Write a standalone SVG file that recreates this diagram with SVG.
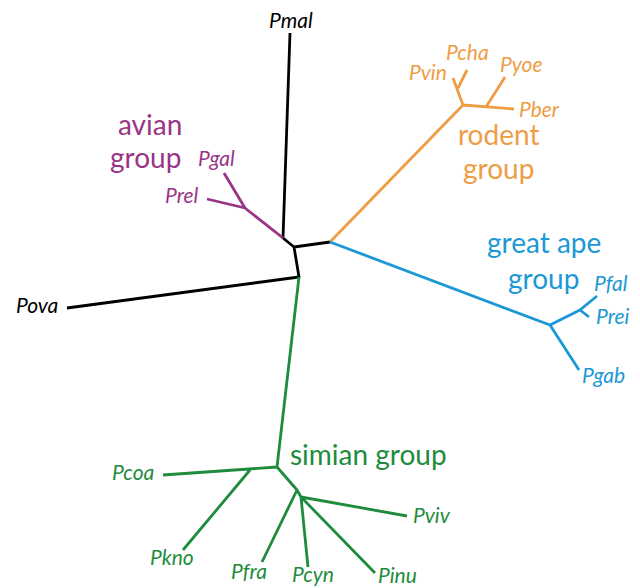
<svg xmlns="http://www.w3.org/2000/svg" width="640" height="588" viewBox="0 0 640 588">
<style>
.br{fill:none;stroke-width:2.8;stroke-linejoin:round;stroke-linecap:butt}
.tx{font-family:Lato,"Open Sans",sans-serif;font-style:italic;font-size:21px}
.grp{font-family:Lato,"Open Sans",sans-serif;font-size:28px}
.k{stroke:#000}.kt{fill:#000}
.p{stroke:#993586}.pt{fill:#993586}
.o{stroke:#EE9D45}.ot{fill:#EE9D45}
.b{stroke:#1B98D5}.bt{fill:#1B98D5}
.g{stroke:#1E8C3C}.gt{fill:#1E8C3C}
</style>
<rect width="640" height="588" fill="#fff"/>
<g id="connectors">
  <path class="br k" d="M290,33 L283,238 L294,247 L330,242 M294,247 L299,277 L67,308"/>
  <path class="br p" d="M283,238 L245,208 L224,173 M245,208 L207,199"/>
  <path class="br o" d="M330,242 L463,105 L514,109 M486,107 L505,77 M463,105 L453,78 M458,88 L467,70"/>
  <path class="br b" d="M330,242 L550,325 L580,310 L597,296 M580,310 L589,317 M550,325 L579,370"/>
  <path class="br g" d="M299,277 L277,467 L163,475 M250,470 L183,550 M277,467 L297,490 L262,562 M297,490 L301,497 L308,567 M301,497 L375,573 M301,497 L407,516"/>
</g>
<g id="Pmal"><text class="tx kt" x="269" y="28">Pmal</text></g>
<g id="Pova"><text class="tx kt" x="16" y="313">Pova</text></g>
<g id="avian"><text class="grp pt" x="118" y="135">avian</text><text class="grp pt" x="110" y="168">group</text></g>
<g id="Pgal"><text class="tx pt" x="198" y="166">Pgal</text></g>
<g id="Prel"><text class="tx pt" x="165" y="203">Prel</text></g>
<g id="Pcha"><text class="tx ot" x="446" y="60">Pcha</text></g>
<g id="Pvin"><text class="tx ot" x="409" y="80">Pvin</text></g>
<g id="Pyoe"><text class="tx ot" x="500" y="72">Pyoe</text></g>
<g id="Pber"><text class="tx ot" x="519" y="117">Pber</text></g>
<g id="rodent"><text class="grp ot" x="458" y="145">rodent</text><text class="grp ot" x="463" y="179">group</text></g>
<g id="greatape"><text class="grp bt" x="487" y="253">great ape</text><text class="grp bt" x="508" y="289">group</text></g>
<g id="Pfal"><text class="tx bt" x="594" y="291">Pfal</text></g>
<g id="Prei"><text class="tx bt" x="596" y="324">Prei</text></g>
<g id="Pgab"><text class="tx bt" x="582" y="383">Pgab</text></g>
<g id="simian"><text class="grp gt" x="290" y="465">simian group</text></g>
<g id="Pcoa"><text class="tx gt" x="112" y="480">Pcoa</text></g>
<g id="Pkno"><text class="tx gt" x="150" y="565">Pkno</text></g>
<g id="Pfra"><text class="tx gt" x="231" y="579">Pfra</text></g>
<g id="Pcyn"><text class="tx gt" x="292" y="582">Pcyn</text></g>
<g id="Pinu"><text class="tx gt" x="378" y="583">Pinu</text></g>
<g id="Pviv"><text class="tx gt" x="413" y="523">Pviv</text></g>
</svg>
